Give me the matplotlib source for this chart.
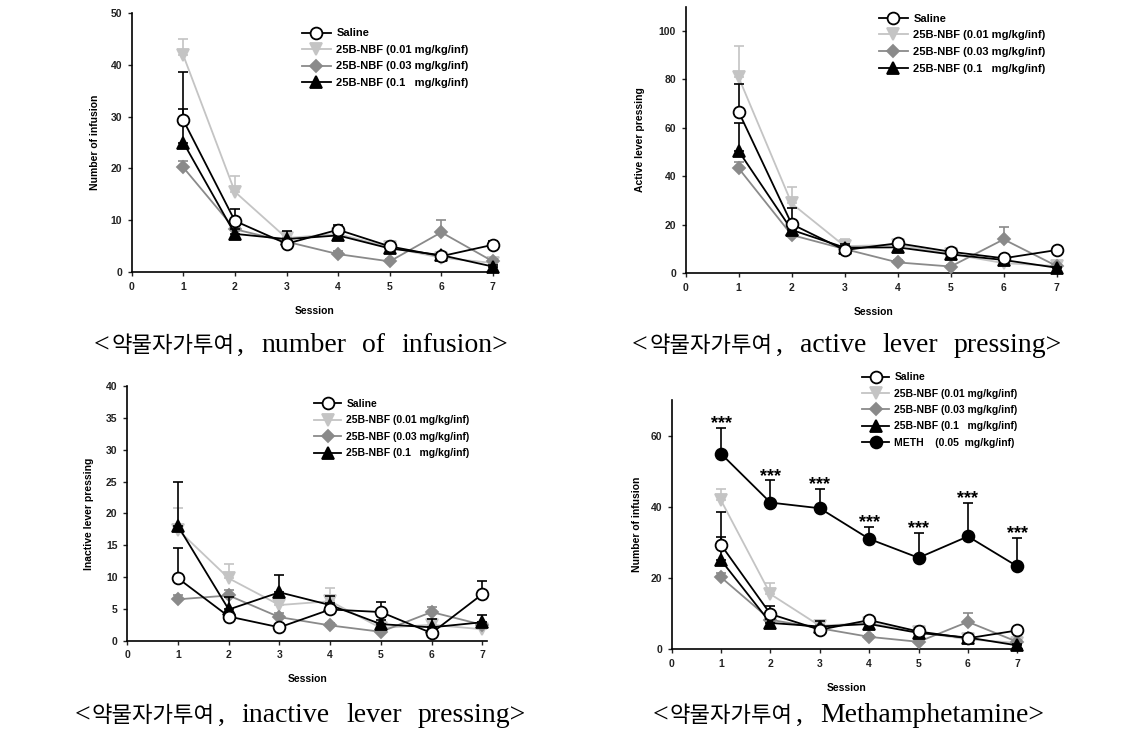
import matplotlib
matplotlib.use("Agg")
import matplotlib.pyplot as plt
import numpy as np

# ---------------- data ----------------
sessions = [1, 2, 3, 4, 5, 6, 7]

saline_inf = [29.3, 9.9, 5.5, 8.2, 5.0, 3.1, 5.3]
saline_inf_err = [2.1, 2.3, 0.8, 1.0, 0.6, 0.5, 0.7]
nbf001_inf = [41.8, 15.5, 6.6, 7.4, 4.8, 2.8, 1.8]
nbf001_inf_err = [3.1, 3.0, 1.0, 1.0, 0.8, 0.6, 0.5]
nbf003_inf = [20.2, 8.3, 5.9, 3.5, 2.1, 7.7, 2.1]
nbf003_inf_err = [1.3, 1.0, 0.8, 0.6, 0.5, 2.4, 0.5]
nbf01_inf = [25.0, 7.4, 6.4, 7.1, 4.6, 3.3, 1.1]
nbf01_inf_err = [13.5, 1.0, 1.6, 1.0, 0.6, 0.5, 0.4]

saline_act = [66.6, 20.3, 9.6, 12.4, 8.9, 6.2, 9.6]
saline_act_err = [11.5, 6.5, 1.5, 1.5, 1.2, 1.0, 1.0]
nbf001_act = [80.8, 28.8, 11.2, 11.7, 8.0, 4.2, 3.0]
nbf001_act_err = [12.9, 6.9, 2.8, 1.5, 1.0, 0.8, 0.6]
nbf003_act = [43.3, 15.8, 10.0, 4.5, 2.8, 14.0, 3.0]
nbf003_act_err = [2.7, 1.2, 1.0, 0.8, 0.6, 5.2, 0.6]
nbf01_act = [50.4, 17.9, 10.6, 10.7, 7.8, 5.5, 2.3]
nbf01_act_err = [11.7, 2.0, 1.5, 1.5, 1.0, 0.8, 0.5]

saline_inact = [9.8, 3.8, 2.1, 4.9, 4.5, 1.2, 7.3]
saline_inact_err = [4.7, 0.5, 0.4, 1.0, 1.5, 0.5, 2.1]
nbf001_inact = [17.4, 9.8, 5.6, 6.2, 2.0, 2.5, 1.8]
nbf001_inact_err = [3.5, 2.2, 1.0, 2.0, 0.5, 0.6, 0.4]
nbf003_inact = [6.5, 7.1, 3.7, 2.4, 1.4, 4.5, 2.5]
nbf003_inact_err = [0.6, 0.8, 0.6, 0.4, 0.3, 0.8, 0.4]
nbf01_inact = [18.0, 4.9, 7.6, 5.6, 2.6, 2.1, 2.9]
nbf01_inact_err = [7.0, 2.0, 2.7, 1.4, 0.6, 1.3, 1.1]

meth_inf = [54.9, 41.2, 39.6, 31.0, 25.7, 31.7, 23.3]
meth_inf_err = [7.2, 6.2, 5.4, 3.3, 7.0, 9.5, 8.0]
meth_sig = ["***"] * 7

labels = ["Saline", "25B-NBF (0.01 mg/kg/inf)", "25B-NBF (0.03 mg/kg/inf)",
          "25B-NBF (0.1   mg/kg/inf)"]
meth_label = "METH    (0.05  mg/kg/inf)"

caption_korean = "약물자가투여"
caption_words = [["number", "of", "infusion"],
                 ["active", "lever", "pressing"],
                 ["inactive", "lever", "pressing"],
                 ["Methamphetamine"]]

# ---------------- style ----------------
plt.rcParams['font.family'] = ['Liberation Sans', 'DejaVu Sans']
plt.rcParams['font.weight'] = 'bold'

styles = {
    "saline": dict(color="black", marker="o", mfc="white", mec="black", ms=8.5, z=6),
    "n001": dict(color="#c4c4c4", marker="v", mfc="#c4c4c4", mec="#c4c4c4", ms=8, z=3),
    "n003": dict(color="#8a8a8a", marker="D", mfc="#8a8a8a", mec="#8a8a8a", ms=6.5, z=4),
    "n01": dict(color="black", marker="^", mfc="black", mec="black", ms=8, z=5),
    "meth": dict(color="black", marker="o", mfc="black", mec="black", ms=8.5, z=7),
}

W, H = 1144, 736
fig = plt.figure(figsize=(W / 100, H / 100), dpi=100)


def add_axes_px(left, bottom_px, right, top_px):
    return fig.add_axes([left / W, 1 - bottom_px / H, (right - left) / W,
                         (bottom_px - top_px) / H])


def draw_series(ax, key, y, err, label):
    st = styles[key]
    y = np.asarray(y)
    e = np.asarray(err)
    ax.errorbar(sessions, y, yerr=[np.zeros_like(e), e], fmt='none',
                ecolor=st["color"], elinewidth=1.2, capsize=3.5, capthick=1.2,
                zorder=st["z"] - 0.5)
    ax.plot(sessions, y, color=st["color"], lw=1.3, marker=st["marker"],
            mfc=st["mfc"], mec=st["mec"], ms=st["ms"], mew=1.3,
            label=label, zorder=st["z"], clip_on=False)


def style_axes(ax, ylim, yticks, ylabel, ylabelpad):
    ax.set_xlim(0, 7.1)
    ax.set_ylim(*ylim)
    ax.set_xticks(range(0, 8))
    ax.set_yticks(yticks)
    for s in ["top", "right"]:
        ax.spines[s].set_visible(False)
    for s in ["left", "bottom"]:
        ax.spines[s].set_linewidth(1.2)
    ax.tick_params(direction='out', length=3, width=1, labelsize=7.5,
                   colors='#222222', pad=4)
    for t in ax.get_xticklabels() + ax.get_yticklabels():
        t.set_fontweight('bold')
    ax.set_xlabel("Session", fontsize=7.5, fontweight='bold', labelpad=10)
    ax.set_ylabel(ylabel, fontsize=7.5, fontweight='bold', labelpad=ylabelpad)


def add_legend(ax, order, anchor_px, fs, spacing):
    h, l = ax.get_legend_handles_labels()
    ax.legend([h[i] for i in order], [l[i] for i in order], loc='upper left',
              bbox_to_anchor=(anchor_px[0] / W, 1 - anchor_px[1] / H),
              bbox_transform=fig.transFigure, frameon=False, handlelength=2.6,
              handletextpad=0.5, labelspacing=spacing, borderpad=0,
              borderaxespad=0, prop=dict(weight='bold', size=fs))


order = [3, 0, 1, 2]

# Panel 1: number of infusion
ax1 = add_axes_px(131.7, 272.3, 131.7 + 7.1 * 51.6, 12.7)
draw_series(ax1, "n001", nbf001_inf, nbf001_inf_err, labels[1])
draw_series(ax1, "n003", nbf003_inf, nbf003_inf_err, labels[2])
draw_series(ax1, "n01", nbf01_inf, nbf01_inf_err, labels[3])
draw_series(ax1, "saline", saline_inf, saline_inf_err, labels[0])
style_axes(ax1, (0, 50), [0, 10, 20, 30, 40, 50], "Number of infusion", 7.6)
add_legend(ax1, order, (302, 28.5), 8, 0.58)

# Panel 2: active lever pressing
ax2 = add_axes_px(685.7, 273.3, 685.7 + 7.1 * 53.0, 6.7)
draw_series(ax2, "n001", nbf001_act, nbf001_act_err, labels[1])
draw_series(ax2, "n003", nbf003_act, nbf003_act_err, labels[2])
draw_series(ax2, "n01", nbf01_act, nbf01_act_err, labels[3])
draw_series(ax2, "saline", saline_act, saline_act_err, labels[0])
style_axes(ax2, (0, 110), [0, 20, 40, 60, 80, 100], "Active lever pressing", 9.8)
add_legend(ax2, order, (879, 13.5), 8, 0.6)

# Panel 3: inactive lever pressing
ax3 = add_axes_px(127.3, 640.7, 127.3 + 7.1 * 50.71, 386)
draw_series(ax3, "n001", nbf001_inact, nbf001_inact_err, labels[1])
draw_series(ax3, "n003", nbf003_inact, nbf003_inact_err, labels[2])
draw_series(ax3, "n01", nbf01_inact, nbf01_inact_err, labels[3])
draw_series(ax3, "saline", saline_inact, saline_inact_err, labels[0])
style_axes(ax3, (0, 40), [0, 5, 10, 15, 20, 25, 30, 35, 40],
           "Inactive lever pressing", 9)
add_legend(ax3, order, (314, 399), 7.5, 0.62)

# Panel 4: Methamphetamine
ax4 = add_axes_px(671.7, 649.3, 671.7 + 7.1 * 49.37, 400)
draw_series(ax4, "n001", nbf001_inf, nbf001_inf_err, labels[1])
draw_series(ax4, "n003", nbf003_inf, nbf003_inf_err, labels[2])
draw_series(ax4, "n01", nbf01_inf, nbf01_inf_err, labels[3])
draw_series(ax4, "saline", saline_inf, saline_inf_err, labels[0])
draw_series(ax4, "meth", meth_inf, meth_inf_err, meth_label)
style_axes(ax4, (0, 70), [0, 20, 40, 60], "Number of infusion", 6.2)
for x, y, e, s in zip(sessions, meth_inf, meth_inf_err, meth_sig):
    ax4.annotate(s, (x, y + e), xytext=(0, -3), textcoords='offset points',
                 ha='center', va='bottom', fontsize=13, fontweight='bold',
                 zorder=10)
add_legend(ax4, [3, 0, 1, 2, 4], (862, 372.5), 7.5, 0.6)

# ---------------- captions ----------------
renderer = fig.canvas.get_renderer()
serif = ['Liberation Serif', 'DejaVu Serif']
kfont = ['Noto Sans CJK KR', 'DejaVu Sans']
cap_pos = [(301, 352), (847, 352), (300, 722), (848, 722)]
latin_fs = 20
word_gap = 16


def caption(cx, cy, words):
    pieces = [("<", serif, latin_fs, 0),
              (caption_korean, kfont, 16, 2),
              (",", serif, latin_fs, 3)]
    for i, w in enumerate(words):
        txt = w + (">" if i == len(words) - 1 else "")
        pieces.append((txt, serif, latin_fs, 17 if i == 0 else word_gap))
    texts = []
    total = 0
    for txt, fam, fs, gap in pieces:
        t = fig.text(0, 1 - cy / H, txt, ha='left', va='baseline', fontsize=fs,
                     family=fam, fontweight='normal')
        wpx = t.get_window_extent(renderer).width
        texts.append((t, gap, wpx))
        total += gap + wpx
    x = cx - total / 2
    for t, gap, wpx in texts:
        x += gap
        t.set_x(x / W)
        x += wpx


for (cx, cy), words in zip(cap_pos, caption_words):
    caption(cx, cy, words)

fig.savefig("out.png", dpi=100)
